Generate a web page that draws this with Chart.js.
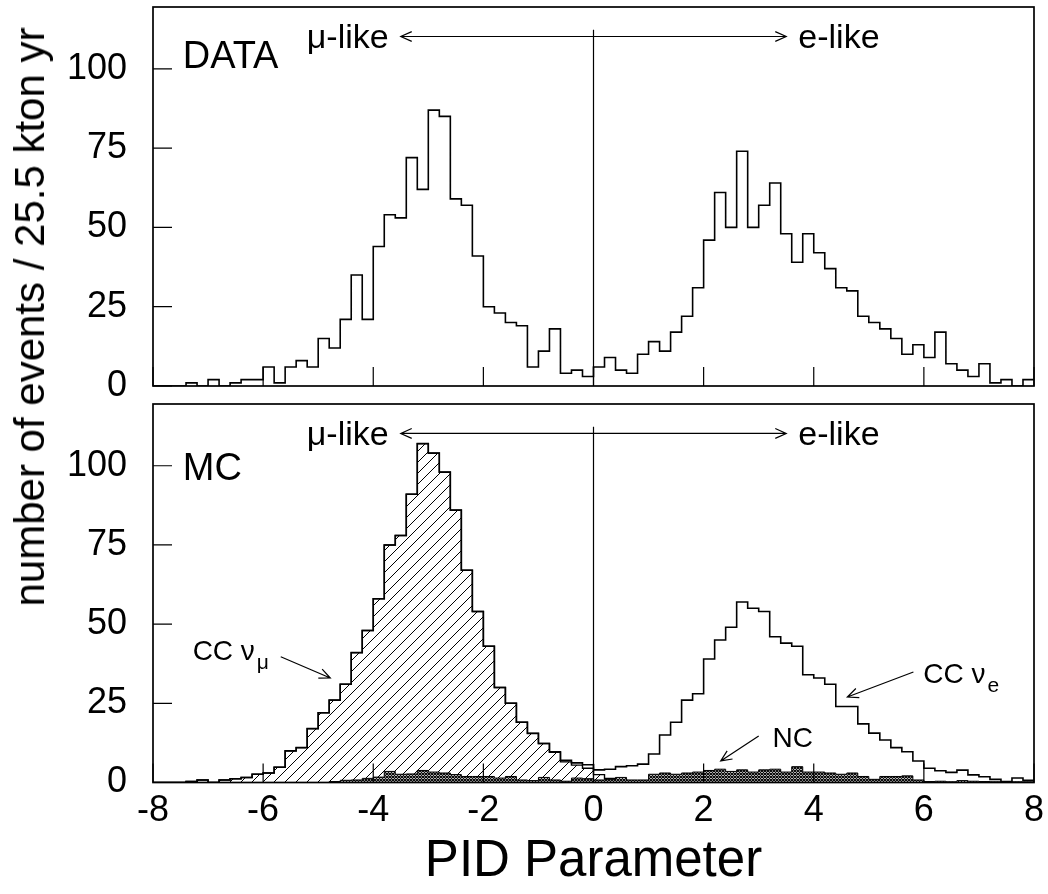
<!DOCTYPE html>
<html>
<head>
<meta charset="utf-8">
<script src="https://cdn.jsdelivr.net/npm/chart.js@4.4.1/dist/chart.umd.min.js"></script>
<style>
  body { margin: 0; background: #fff; }
  #wrap { position: relative; width: 1048px; height: 894px; }
  #top { position: absolute; left: 0; top: 0; width: 1048px; height: 396px; }
  #bot { position: absolute; left: 0; top: 396px; width: 1048px; height: 498px; }
  #ytitle {
    position: absolute; left: 30px; top: 317px;
    transform: translate(-50%, -50%) rotate(-90deg);
    font: 42px "Liberation Sans", Arial, sans-serif; color: #000; white-space: nowrap;
  }
</style>
</head>
<body>
<div id="wrap">
  <div id="top"><canvas id="chart_top"></canvas></div>
  <div id="bot"><canvas id="chart_bot"></canvas></div>
  <div id="ytitle">number of events / 25.5 kton yr</div>
</div>
<script>
// binning: 80 bins of 0.2 from -8 to 8
var binLo = -8, binW = 0.2;

// DATA panel
var dataCounts = [
  0, 0, 0, 1, 0, 2, 0, 1, 2, 2,
  6, 1, 6, 8, 6, 15, 12, 21, 35, 21,
  44, 54, 53, 72, 62, 87, 85, 59, 57, 41,
  25, 23, 20, 19, 6, 11, 18, 4, 5, 3,
  6, 9, 5, 4, 10, 14, 11, 17, 22, 31,
  46, 61, 50, 74, 50, 57, 64, 48, 39, 48,
  42, 37, 31, 30, 22, 20, 18, 15, 10, 13,
  9, 17, 7, 5, 3, 7, 1, 2, 0, 2
];

// MC panel: total, CC nu_mu (hatched), NC (cross-hatched)
var mcTotal = [
  0, 0, 0, 0.3, 0.8, 0, 0.8, 1.2, 1.6, 2.6,
  3, 4.8, 10, 11, 17, 22, 26, 31, 41, 48,
  58, 75, 78, 91, 107, 104, 98, 86, 67, 54,
  43, 30, 25, 19, 15.5, 12.3, 9.7, 7, 6.2, 5.6,
  4, 4.2, 5, 5.3, 5.8, 9, 15, 19, 26, 28,
  39, 45, 49, 57, 55, 54, 46, 44, 43, 34,
  33, 31, 24, 24, 18.5, 15.6, 13.4, 11, 9.7, 6.8,
  4.5, 3.7, 3.2, 3.9, 2.4, 1.8, 1, 0.3, 1.4, 0.7
];
var mcNumu = [
  0, 0, 0, 0.3, 0.8, 0, 0.8, 1.2, 1.6, 2.6,
  3, 4.8, 10, 11, 17, 22, 26, 31, 41, 48,
  58, 75, 78, 91, 107, 104, 98, 86, 67, 54,
  43, 30, 25, 19, 15.5, 12.3, 9.5, 6.5, 5.5, 4.5,
  2.5, 1.3, 0.8, 0.4, 0.2, 0, 0, 0, 0, 0,
  0, 0, 0, 0, 0, 0, 0, 0, 0, 0,
  0, 0, 0, 0, 0, 0, 0, 0, 0, 0,
  0, 0, 0, 0, 0, 0, 0, 0, 0, 0
];
var mcNC = [
  0, 0, 0, 0, 0, 0, 0, 0, 0, 0,
  0, 0, 0, 0, 0, 0, 0.3, 0.7, 0.8, 1.3,
  1.7, 3.5, 2.6, 2.7, 3.8, 3.3, 3, 2.5, 1.9, 1.9,
  1.9, 1.4, 1.9, 0.8, 0.6, 1.6, 0.8, 0.4, 1.4, 1.2,
  0.8, 1, 1.6, 0.8, 0.8, 2.6, 3, 2.6, 3, 3.3,
  3.8, 4.2, 3.5, 4, 3.3, 4, 4.2, 3.3, 5, 3.3,
  3.3, 3, 2.6, 3, 1.9, 1, 1.9, 1.9, 2.1, 0.8,
  0.3, 0.4, 0.2, 0.6, 0.4, 0.3, 0.2, 0.1, 0.2, 0.2
];

var xTicks = [-8, -6, -4, -2, 0, 2, 4, 6, 8];
var yTicks = [0, 25, 50, 75, 100];

var FONT = '"Liberation Sans", Arial, sans-serif';

// left edge of each bin carries its value, plus the closing edge at x = 8
function histPoints(vals) {
  var pts = vals.map(function (v, i) { return { x: binLo + i * binW, y: v }; });
  pts.push({ x: binLo + vals.length * binW, y: vals[vals.length - 1] });
  return pts;
}

// fill patterns
function hatchPattern() {
  var p = document.createElement('canvas');
  p.width = 11; p.height = 11;
  var g = p.getContext('2d');
  g.strokeStyle = '#000'; g.lineWidth = 1;
  g.beginPath();
  g.moveTo(0, 11); g.lineTo(11, 0);
  g.moveTo(-1, 1); g.lineTo(1, -1);
  g.moveTo(10, 12); g.lineTo(12, 10);
  g.stroke();
  return g.createPattern(p, 'repeat');
}
function crossPattern() {
  var p = document.createElement('canvas');
  p.width = 3; p.height = 3;
  var g = p.getContext('2d');
  g.fillStyle = '#fff'; g.fillRect(0, 0, 3, 3);
  g.strokeStyle = '#000'; g.lineWidth = 1.1;
  g.beginPath();
  g.moveTo(0, 0); g.lineTo(3, 3);
  g.moveTo(0, 3); g.lineTo(3, 0);
  g.stroke();
  return g.createPattern(p, 'repeat');
}

function arrow(c, x1, y1, x2, y2) {
  var ang = Math.atan2(y2 - y1, x2 - x1), L = 12, w = 0.42;
  c.beginPath();
  c.moveTo(x1, y1); c.lineTo(x2, y2);
  c.moveTo(x2 - L * Math.cos(ang - w), y2 - L * Math.sin(ang - w));
  c.lineTo(x2, y2);
  c.lineTo(x2 - L * Math.cos(ang + w), y2 - L * Math.sin(ang + w));
  c.stroke();
}

// frame box + inward ticks
var framePlugin = {
  id: 'frame',
  afterDatasetsDraw: function (chart) {
    var c = chart.ctx, a = chart.chartArea, xs = chart.scales.x, ys = chart.scales.y;
    c.save();
    c.strokeStyle = '#000';
    c.lineWidth = 1.2;
    c.beginPath();
    xTicks.forEach(function (t) { var px = xs.getPixelForValue(t); c.moveTo(px, a.bottom); c.lineTo(px, a.bottom - 19); });
    yTicks.forEach(function (t) { var py = ys.getPixelForValue(t); c.moveTo(a.left, py); c.lineTo(a.left + 19, py); });
    c.stroke();
    c.lineWidth = 1.7;
    c.strokeRect(a.left, a.top, a.right - a.left, a.bottom - a.top);
    c.restore();
  }
};

// panel labels, mu-like / e-like arrow, divider at 0
function notesPlugin(label, labelY, extra) {
  return {
    id: 'notes',
    afterDatasetsDraw: function (chart) {
      var c = chart.ctx, xs = chart.scales.x, ys = chart.scales.y;
      var X = function (v) { return xs.getPixelForValue(v); };
      var Y = function (v) { return ys.getPixelForValue(v); };
      c.save();
      c.fillStyle = '#000'; c.strokeStyle = '#000';
      c.lineWidth = 1.2;
      c.beginPath(); c.moveTo(X(0), Y(0)); c.lineTo(X(0), Y(112.3)); c.stroke();
      arrow(c, X(0), Y(110.2), X(-3.5), Y(110.2));
      arrow(c, X(0), Y(110.2), X(3.5), Y(110.2));
      c.textBaseline = 'alphabetic';
      c.font = '34px ' + FONT;
      c.textAlign = 'right'; c.fillText('\u03bc-like', X(-3.72), Y(106.6));
      c.textAlign = 'left'; c.fillText('e-like', X(3.72), Y(106.6));
      c.font = '38px ' + FONT;
      c.fillText(label, X(-7.46), Y(labelY));
      if (extra) extra(c, X, Y);
      c.restore();
    }
  };
}

function subLabel(c, x, y, main, sub) {
  c.textAlign = 'left';
  c.font = '28px ' + FONT;
  c.fillText(main, x, y);
  var w = c.measureText(main).width;
  c.font = '21px ' + FONT;
  c.fillText(sub, x + w + 2, y + 9);
}

function options(showX) {
  return {
    responsive: true,
    maintainAspectRatio: false,
    animation: false,
    layout: { padding: { top: showX ? 8 : 7, right: 14, left: 0, bottom: 0 } },
    plugins: { legend: { display: false }, tooltip: { enabled: false } },
    elements: { point: { radius: 0 } },
    scales: {
      x: {
        type: 'linear', min: -8, max: 8,
        grid: { display: false, drawTicks: false },
        border: { display: false },
        ticks: { display: showX, stepSize: 2, padding: 7, maxRotation: 0, color: '#000', font: { size: 36, family: FONT } },
        title: { display: showX, text: 'PID Parameter', color: '#000', font: { size: 51, family: FONT }, padding: { top: 0, bottom: 1 } },
        afterFit: function (s) {
          s.height = showX ? 111.5 : 10;
          s.paddingLeft = 0; s.paddingRight = 0;
        }
      },
      y: {
        type: 'linear', min: 0, max: 119.5,
        grid: { display: false, drawTicks: false },
        border: { display: false },
        ticks: { stepSize: 25, includeBounds: false, padding: 26, color: '#000', font: { size: 36, family: FONT } },
        afterFit: function (s) {
          s.width = 153;
          s.paddingTop = 0; s.paddingBottom = 0;
        }
      }
    }
  };
}

// top panel: DATA
new Chart(document.getElementById('chart_top'), {
  type: 'line',
  data: {
    datasets: [{
      data: histPoints(dataCounts),
      stepped: 'before',
      borderColor: '#000',
      borderWidth: 1.6,
      fill: false,
      pointRadius: 0
    }]
  },
  options: options(false),
  plugins: [framePlugin, notesPlugin('DATA', 100.3)]
});

// bottom panel: MC
new Chart(document.getElementById('chart_bot'), {
  type: 'line',
  data: {
    datasets: [
      { label: 'total', data: histPoints(mcTotal), stepped: 'before', borderColor: '#000', borderWidth: 1.6, fill: false, pointRadius: 0 },
      { label: 'NC', data: histPoints(mcNC), stepped: 'before', borderColor: '#000', borderWidth: 1, backgroundColor: crossPattern(), fill: 'origin', pointRadius: 0 },
      { label: 'CC numu', data: histPoints(mcNumu), stepped: 'before', borderColor: '#000', borderWidth: 1.4, backgroundColor: hatchPattern(), fill: 'origin', pointRadius: 0 }
    ]
  },
  options: options(true),
  plugins: [framePlugin, notesPlugin('MC', 95.6, function (c, X, Y) {
    c.lineWidth = 1.2;
    subLabel(c, X(-7.28), Y(38.7), 'CC \u03bd', '\u03bc');
    arrow(c, X(-5.68), Y(39.7), X(-4.78), Y(33.0));
    subLabel(c, X(5.99), Y(31.4), 'CC \u03bd', 'e');
    arrow(c, X(5.81), Y(34.9), X(4.61), Y(27.0));
    c.font = '28px ' + FONT;
    c.fillText('NC', X(3.25), Y(11.2));
    arrow(c, X(3.0), Y(14.7), X(2.31), Y(6.8));
  })]
});
</script>
</body>
</html>
